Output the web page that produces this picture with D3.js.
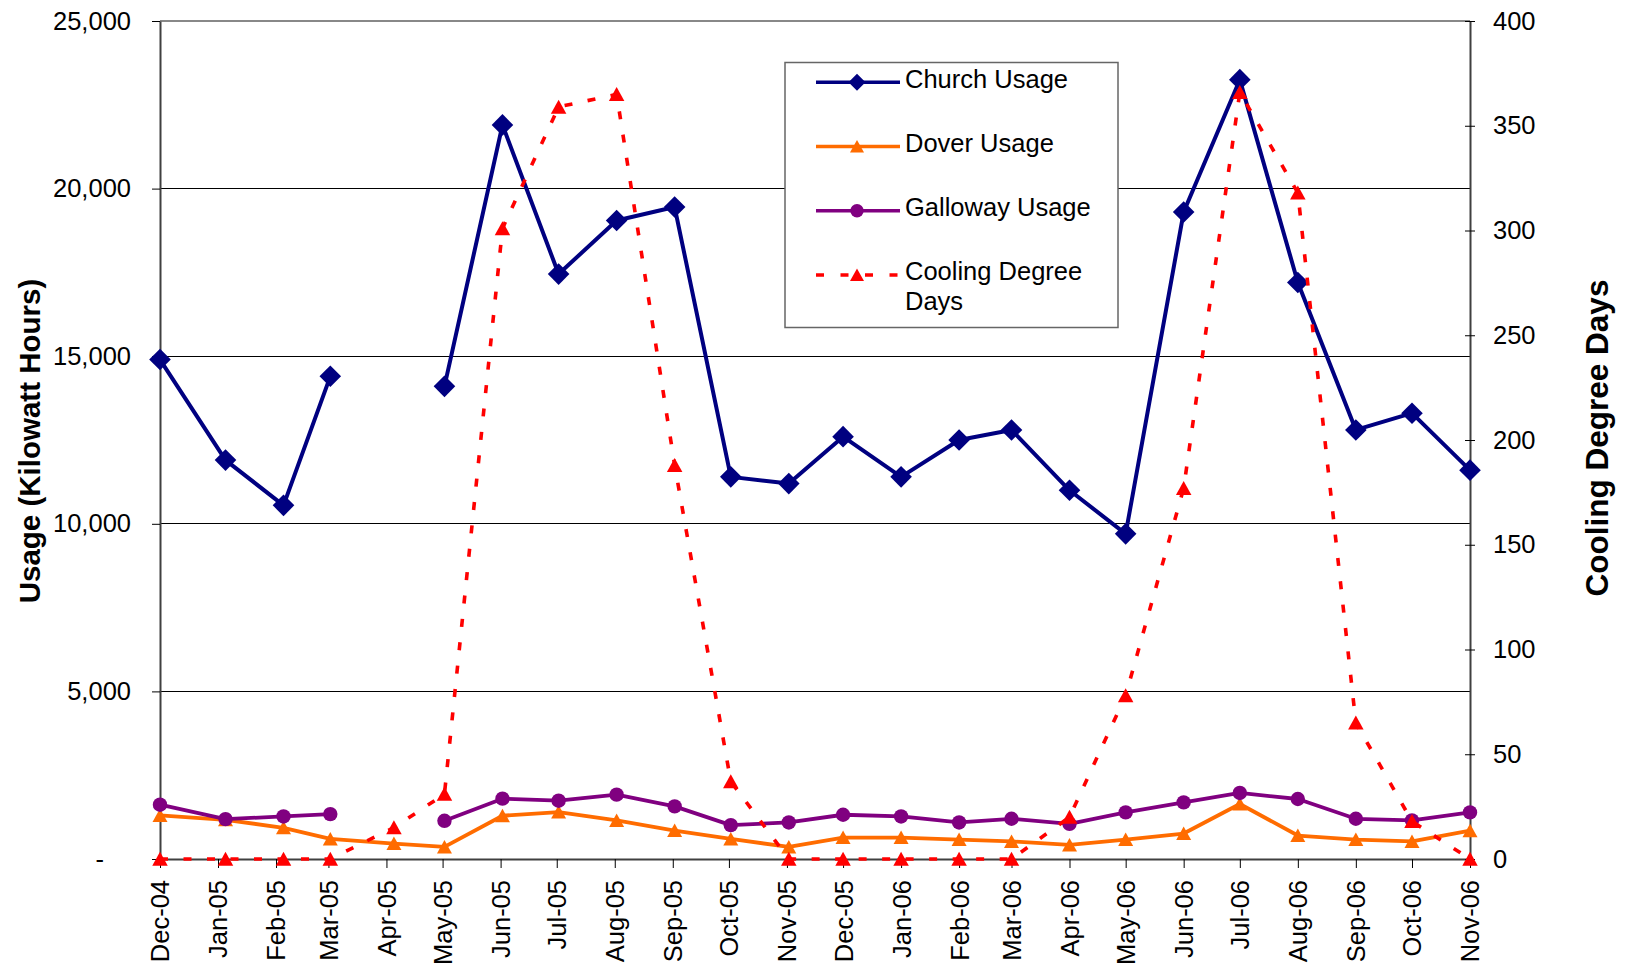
<!DOCTYPE html>
<html><head><meta charset="utf-8">
<script src="https://cdn.jsdelivr.net/npm/d3@7"></script>
<style>
html,body{margin:0;padding:0;background:#fff;}
svg{display:block;font-family:"Liberation Sans",Arial,Helvetica,sans-serif;}
</style></head><body>
<svg id="chart" width="1630" height="965"></svg>
<script>
// ---- data (meter-read dates and monthly values) ----
const readDates = ["2004-12-01","2005-01-05","2005-02-05","2005-03-02","2005-04-05","2005-05-02",
  "2005-06-02","2005-07-02","2005-08-02","2005-09-02","2005-10-02","2005-11-02",
  "2005-12-01","2006-01-01","2006-02-01","2006-03-01","2006-04-01","2006-05-01",
  "2006-06-01","2006-07-01","2006-08-01","2006-09-01","2006-10-01","2006-11-01"];
const churchUsage = [14900,11900,10550,14400,null,14100,21900,17450,19050,19450,11400,11200,
  12600,11400,12500,12800,11000,9700,19300,23250,17200,12800,13300,11600];
const doverUsage = [1300,1170,930,600,460,360,1290,1400,1150,850,600,360,
  640,640,580,525,420,580,760,1640,700,580,525,845];
const gallowayUsage = [1620,1190,1270,1340,null,1140,1800,1740,1920,1570,1010,1090,
  1320,1270,1090,1200,1050,1390,1690,1970,1790,1200,1150,1390];
const coolingDegreeDays = [0,0,0,0,15,31,301,359,365,188,37,0,
  0,0,0,0,20,78,177,366,318,65,18,0];
const usageTicks = [0,5000,10000,15000,20000,25000];
const cddTicks = [0,50,100,150,200,250,300,350,400];
const axisStart = "2004-12-01", axisEnd = "2006-11-01";
const seriesNames = ["Church Usage","Dover Usage","Galloway Usage","Cooling Degree Days"];

// ---- setup ----
const parse = d3.utcParse("%Y-%m-%d");
const dates = readDates.map(parse);
const svg = d3.select("#chart");
const L = 160, R = 1470, T = 21, B = 859;
const x = d3.scaleUtc().domain([parse(axisStart), parse(axisEnd)]).range([L, R]);
const y = d3.scaleLinear().domain([0, 25000]).range([B, T]);
const y2 = d3.scaleLinear().domain([0, 400]).range([B, T]);

const FS = "25.5px";

// gridlines
svg.append("g").selectAll("line").data(usageTicks.filter(v => v > 0 && v < 25000)).join("line")
  .attr("x1", L).attr("x2", R).attr("y1", d => y(d)).attr("y2", d => y(d))
  .attr("stroke", "#000").attr("stroke-width", 1).attr("shape-rendering", "crispEdges");
// top border
svg.append("line").attr("x1", L).attr("x2", R).attr("y1", y(25000)).attr("y2", y(25000))
  .attr("stroke", "#888").attr("stroke-width", 2);

// axes
function styleAxis(g) {
  g.attr("font-size", null).attr("font-family", null);
  g.select(".domain").attr("stroke", "#404040").attr("stroke-width", 2);
  g.selectAll(".tick line").attr("stroke", "#000").attr("stroke-width", 1);
  g.selectAll(".tick text").attr("fill", "#000").style("font-size", FS);
}
const gx = svg.append("g").attr("transform", `translate(0,${B})`)
  .call(d3.axisBottom(x).ticks(d3.utcMonth.every(1)).tickFormat(d3.utcFormat("%b-%y"))
    .tickSize(9).tickSizeOuter(0));
styleAxis(gx);
gx.selectAll(".tick text").attr("transform", "rotate(-90)").attr("text-anchor", "end")
  .attr("x", -21).attr("y", 0).attr("dy", "0.35em");

const gy = svg.append("g").attr("transform", `translate(${L},0)`)
  .call(d3.axisLeft(y).tickValues(usageTicks).tickFormat(d => d === 0 ? "-" : d3.format(",")(d))
    .tickSize(8).tickPadding(21).tickSizeOuter(0));
styleAxis(gy);
gy.selectAll(".tick").filter(d => d === 0).select("text").attr("x", -56);

const gy2 = svg.append("g").attr("transform", `translate(${R},0)`)
  .call(d3.axisRight(y2).tickValues(cddTicks).tickSize(5).tickPadding(18).tickSizeOuter(0));
styleAxis(gy2);
gy2.selectAll(".tick line").attr("x1", -5);

// axis titles
svg.append("text").attr("transform", `translate(29,441) rotate(-90)`)
  .attr("text-anchor", "middle").attr("dominant-baseline", "central")
  .style("font-size", "29.5px").style("font-weight", "bold").text("Usage (Kilowatt Hours)");
svg.append("text").attr("transform", `translate(1597,438) rotate(-90)`)
  .attr("text-anchor", "middle").attr("dominant-baseline", "central")
  .style("font-size", "31.5px").style("font-weight", "bold").text("Cooling Degree Days");

// markers
const diamond = s => `M0,${-s}L${s},0L0,${s}L${-s},0Z`;
const triangle = (w, h) => `M0,${-h/2 - 0.5}L${w/2},${h/2}L${-w/2},${h/2}Z`;

function drawSeries(values, yScale, color, width, dash, marker) {
  const pts = values.map((v, i) => ({d: dates[i], v}));
  const line = d3.line().defined(p => p.v !== null).x(p => x(p.d)).y(p => yScale(p.v));
  const g = svg.append("g");
  g.append("path").attr("d", line(pts)).attr("fill", "none").attr("stroke", color)
    .attr("stroke-width", width).attr("stroke-linejoin", "round")
    .attr("stroke-dasharray", dash);
  const valid = pts.filter(p => p.v !== null);
  if (marker === "circle") {
    g.selectAll("circle").data(valid).join("circle").attr("cx", p => x(p.d)).attr("cy", p => yScale(p.v))
      .attr("r", 7.2).attr("fill", color);
  } else {
    g.selectAll("path.m").data(valid).join("path").attr("class", "m")
      .attr("transform", p => `translate(${x(p.d)},${yScale(p.v)})`)
      .attr("d", marker).attr("fill", color);
  }
}
const NAVY = "#000080", ORANGE = "#FF6C00", PURPLE = "#800080", RED = "#FF0000";
drawSeries(churchUsage, y, NAVY, 4, null, diamond(10.8));
drawSeries(doverUsage, y, ORANGE, 3.8, null, triangle(15, 13));
drawSeries(gallowayUsage, y, PURPLE, 3.8, null, "circle");
drawSeries(coolingDegreeDays, y2, RED, 3.6, "8,15.5", triangle(15.5, 13.5));

// legend
const lg = svg.append("g");
lg.append("rect").attr("x", 785).attr("y", 62.5).attr("width", 333).attr("height", 265)
  .attr("fill", "#fff").attr("stroke", "#666").attr("stroke-width", 1.5);
const legendItems = [
  {name: seriesNames[0], color: NAVY, dash: null, marker: diamond(8.5), w: 3.5},
  {name: seriesNames[1], color: ORANGE, dash: null, marker: triangle(14, 12), w: 3.5},
  {name: seriesNames[2], color: PURPLE, dash: null, marker: "circle", w: 3.5},
  {name: seriesNames[3], color: RED, dash: "8,16.5", marker: triangle(14, 12), w: 3.5}
];
legendItems.forEach((it, i) => {
  const ry = 82.3 + i * 64.2;
  lg.append("line").attr("x1", 816).attr("x2", 900).attr("y1", ry).attr("y2", ry)
    .attr("stroke", it.color).attr("stroke-width", it.w).attr("stroke-dasharray", it.dash);
  if (it.marker === "circle") {
    lg.append("circle").attr("cx", 857).attr("cy", ry).attr("r", 6.7).attr("fill", it.color);
  } else {
    lg.append("path").attr("transform", `translate(857,${ry})`).attr("d", it.marker).attr("fill", it.color);
  }
  const t = lg.append("text").attr("x", 905).attr("y", ry + 5.5).style("font-size", FS).attr("fill", "#000");
  if (i === 3) {
    t.append("tspan").attr("x", 905).text("Cooling Degree");
    t.append("tspan").attr("x", 905).attr("dy", 30).text("Days");
  } else {
    t.text(it.name);
  }
});
</script>
</body></html>
